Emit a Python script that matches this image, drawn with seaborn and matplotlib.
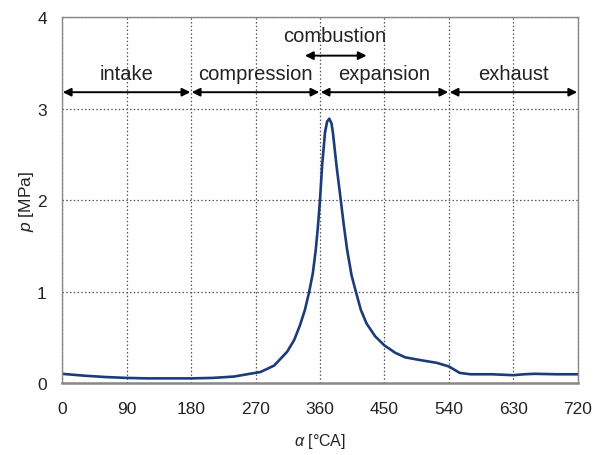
import pandas as pd
import matplotlib.pyplot as plt
import seaborn as sns

# Crank angle [°CA] and cylinder pressure [MPa]
angle = [0, 30, 60, 90, 120, 150, 180, 210, 240, 262, 277, 296, 314, 324, 332,
         339, 345, 350, 354, 357, 360, 363, 367, 370, 373, 376, 378, 383, 389,
         393, 398, 404, 410, 417, 425, 437, 450, 465, 479, 500, 523, 540, 555,
         570, 600, 630, 645, 660, 690, 720]
pressure = [0.10, 0.08, 0.065, 0.055, 0.05, 0.05, 0.05, 0.055, 0.07, 0.10, 0.12,
            0.19, 0.34, 0.47, 0.63, 0.80, 1.00, 1.20, 1.45, 1.70, 2.00, 2.38,
            2.74, 2.86, 2.89, 2.84, 2.74, 2.38, 2.00, 1.74, 1.45, 1.18, 1.00,
            0.80, 0.65, 0.51, 0.41, 0.33, 0.28, 0.25, 0.22, 0.18, 0.11, 0.095,
            0.095, 0.085, 0.095, 0.10, 0.095, 0.095]

phase_names = ["intake", "compression", "expansion", "exhaust"]
phase_edges = [0, 180, 360, 540, 720]
x_ticks = [0, 90, 180, 270, 360, 450, 540, 630, 720]
y_ticks = [0, 1, 2, 3, 4]

df = pd.DataFrame({"angle": angle, "p": pressure})

sns.set_theme(style="white")
plt.rcParams['font.family'] = ['Liberation Sans', 'DejaVu Sans']
plt.rcParams['mathtext.fontset'] = 'custom'
plt.rcParams['mathtext.it'] = 'Liberation Sans:italic'
plt.rcParams['mathtext.rm'] = 'Liberation Sans'

fig = plt.figure(figsize=(5.97, 4.56), dpi=100)
ax = fig.add_axes([0.104, 0.158, 0.864, 0.802])

sns.lineplot(data=df, x="angle", y="p", ax=ax, color="#1c3c78", linewidth=1.9)

ax.set_xlim(0, 720)
ax.set_ylim(0, 4)
ax.set_xticks(x_ticks)
ax.set_yticks(y_ticks)
ax.grid(True, linestyle=(0, (1.2, 1.8)), color="#555555", linewidth=0.9)
for s in ["top", "right", "left"]:
    ax.spines[s].set_color("#888888")
    ax.spines[s].set_linewidth(1.0)
ax.spines["bottom"].set_color("#888888")
ax.spines["bottom"].set_linewidth(1.8)
ax.tick_params(axis="both", which="major", direction="out", length=5,
               color="#888888", labelsize=12.5, labelcolor="#222222", pad=8)
ax.tick_params(axis="y", pad=6)

ax.set_xlabel(r"$\it{\alpha}$ [°CA]", fontsize=11.5, color="#222222", labelpad=11)
ax.set_ylabel(r"$\it{p}$ [MPa]", fontsize=12.5, color="#222222", labelpad=1)

# Stroke arrows
arrow_style = dict(arrowstyle="<|-|>", color="black", lw=1.4, mutation_scale=12,
                   shrinkA=0, shrinkB=0)
for i, name in enumerate(phase_names):
    a, b = phase_edges[i], phase_edges[i + 1]
    ax.annotate("", xy=(a + 1, 3.18), xytext=(b - 1, 3.18), arrowprops=arrow_style)
    ax.text((a + b) / 2, 3.28, name, ha="center", va="bottom", fontsize=14.5,
            color="#222222")

ax.annotate("", xy=(339, 3.58), xytext=(425, 3.58), arrowprops=arrow_style)
ax.text(381, 3.7, "combustion", ha="center", va="bottom", fontsize=14.5,
        color="#222222")

plt.savefig("out.png", dpi=100)
